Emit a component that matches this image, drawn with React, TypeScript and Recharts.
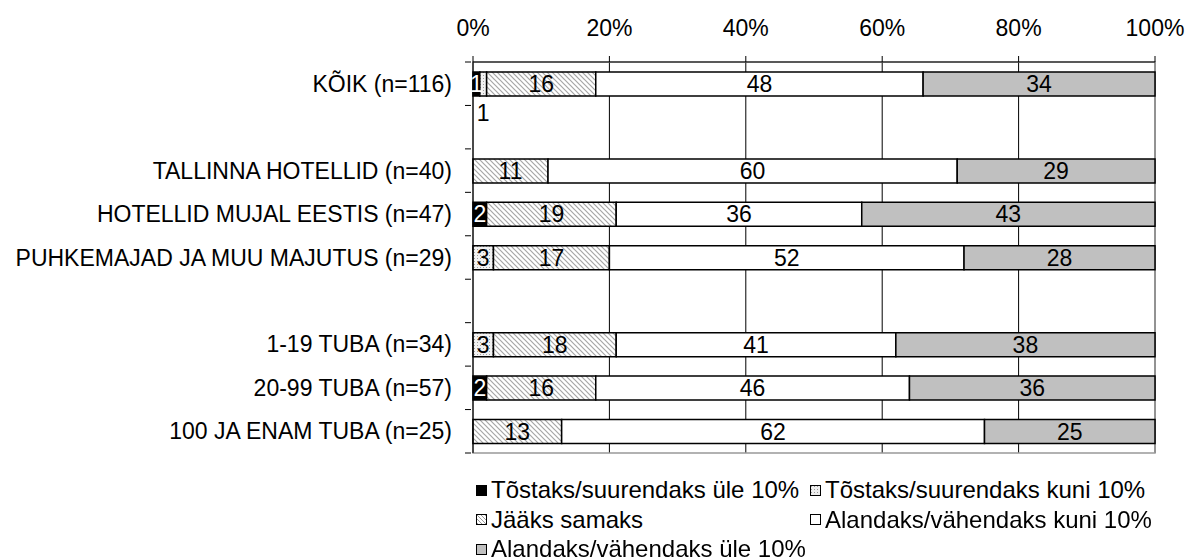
import React from "react";
import {
  BarChart,
  Bar,
  XAxis,
  YAxis,
  CartesianGrid,
  LabelList,
  ReferenceArea,
} from "recharts";

// Row labels (blank rows separate the groups)
const categories = [
  "KÕIK (n=116)",
  " ",
  "TALLINNA HOTELLID (n=40)",
  "HOTELLID MUJAL EESTIS (n=47)",
  "PUHKEMAJAD JA MUU MAJUTUS (n=29)",
  "  ",
  "1-19 TUBA (n=34)",
  "20-99 TUBA (n=57)",
  "100 JA ENAM TUBA (n=25)",
];

// Shares in percent, one array per answer
const upMore = [1, 0, 0, 2, 0, 0, 0, 2, 0];
const upLess = [1, 0, 0, 0, 3, 0, 3, 0, 0];
const same = [16, 0, 11, 19, 17, 0, 18, 16, 13];
const downLess = [48, 0, 60, 36, 52, 0, 41, 46, 62];
const downMore = [34, 0, 29, 43, 28, 0, 38, 36, 25];

const xTicks = [0, 20, 40, 60, 80, 100];

const FONT = '"Liberation Sans", Arial, sans-serif';
const W = 1187;
const H = 560;
const PLOT_TOP = 62;
const PLOT_BOTTOM = 453;

const series = [
  { key: "upMore", name: "Tõstaks/suurendaks üle 10%", values: upMore, fill: "#000000", text: "#ffffff" },
  { key: "upLess", name: "Tõstaks/suurendaks kuni 10%", values: upLess, fill: "url(#dots)", text: "#000000" },
  { key: "same", name: "Jääks samaks", values: same, fill: "url(#hatch)", text: "#000000" },
  { key: "downLess", name: "Alandaks/vähendaks kuni 10%", values: downLess, fill: "#ffffff", text: "#000000" },
  { key: "downMore", name: "Alandaks/vähendaks üle 10%", values: downMore, fill: "#c0c0c0", text: "#000000" },
];

const rows = categories.map((name, i) => {
  const row: Record<string, string | number | null> = { name };
  series.forEach((s) => {
    row[s.key] = s.values[i] ? s.values[i] : null;
  });
  return row;
});

const band = (PLOT_BOTTOM - PLOT_TOP) / categories.length;

// Y tick: label plus small tick marks on the row boundaries
const CategoryTick = (props: any) => {
  const { x, y, payload, index } = props;
  const axisX = x + 6;
  return (
    <g>
      <line x1={axisX - 6} x2={axisX} y1={y - band / 2} y2={y - band / 2} stroke="#000" />
      {index === categories.length - 1 && (
        <line x1={axisX - 6} x2={axisX} y1={y + band / 2} y2={y + band / 2} stroke="#000" />
      )}
      <text
        x={axisX - 19}
        y={y}
        dy={8}
        textAnchor="end"
        fontFamily={FONT}
        fontSize={23}
        fill="#000"
      >
        {payload.value}
      </text>
    </g>
  );
};

const makeLabel = (textColor: string, below: boolean) => (props: any) => {
  const { x, y, width, height, value } = props;
  if (!value) return null;
  const cx = x + width / 2;
  const out = below && width < 9;
  const cy = out ? y + height + 17 : y + height / 2;
  return (
    <text
      x={cx}
      y={cy}
      dy={8}
      textAnchor="middle"
      fontFamily={FONT}
      fontSize={23}
      fill={out ? "#000" : textColor}
    >
      {value}
    </text>
  );
};

const LegendBox = () => (
  <div
    style={{
      position: "absolute",
      left: 474,
      top: 475,
      width: 712,
      display: "grid",
      gridTemplateColumns: "334px 378px",
      rowGap: 0,
      fontFamily: FONT,
      fontSize: 24,
      lineHeight: "29.5px",
      color: "#000",
    }}
  >
    {series.map((s) => (
      <div key={s.key} style={{ display: "flex", alignItems: "center", whiteSpace: "nowrap" }}>
        <svg width={16} height={14} style={{ marginRight: 1 }}>
          <defs>
            <pattern id={`ldots-${s.key}`} width={3} height={3} patternUnits="userSpaceOnUse">
              <rect width={3} height={3} fill="#eeeeee" />
              <rect width={1} height={1} fill="#999999" />
            </pattern>
            <pattern id={`lhatch-${s.key}`} width={4} height={4} patternUnits="userSpaceOnUse">
              <rect width={4} height={4} fill="#ffffff" />
              <path d="M-1,-1 L5,5 M-1,3 L1,5 M3,-1 L5,1" stroke="#999999" strokeWidth={1} />
            </pattern>
          </defs>
          <rect
            x={2.5}
            y={2.5}
            width={10}
            height={10}
            fill={
              s.key === "upLess"
                ? `url(#ldots-${s.key})`
                : s.key === "same"
                ? `url(#lhatch-${s.key})`
                : s.fill
            }
            stroke="#000"
            strokeWidth={1}
          />
        </svg>
        <span>{s.name}</span>
      </div>
    ))}
  </div>
);

export default function App() {
  return (
    <div style={{ position: "fixed", left: 0, top: 0, width: W, height: H, background: "#fff" }}>
      <BarChart
        width={W}
        height={H}
        data={rows}
        layout="vertical"
        margin={{ top: 0, right: W - 1155, bottom: H - PLOT_BOTTOM, left: 0 }}
        barSize={24}
      >
        <defs>
          <pattern id="dots" width={3} height={3} patternUnits="userSpaceOnUse">
            <rect width={3} height={3} fill="#f2f2f2" />
            <rect width={1} height={1} fill="#a0a0a0" />
          </pattern>
          <pattern id="hatch" width={5} height={5} patternUnits="userSpaceOnUse">
            <rect width={5} height={5} fill="#ffffff" />
            <path d="M-1,-1 L6,6 M-1,4 L1,6 M4,-1 L6,1" stroke="#a6a6a6" strokeWidth={1.2} />
          </pattern>
        </defs>
        <ReferenceArea x1={0} x2={100} fill="none" stroke="#999999" strokeWidth={1.5} ifOverflow="visible" />
        <CartesianGrid horizontal={false} stroke="#000" strokeWidth={1} />
        <XAxis
          type="number"
          orientation="top"
          domain={[0, 100]}
          ticks={xTicks}
          tickFormatter={(v: number) => `${v}%`}
          height={PLOT_TOP}
          axisLine={{ stroke: "#000" }}
          tickLine={{ stroke: "#000" }}
          tickSize={6}
          tickMargin={20}
          tick={{ fill: "#000", fontSize: 23, fontFamily: FONT }}
          interval={0}
        />
        <YAxis
          type="category"
          dataKey="name"
          width={473}
          axisLine={{ stroke: "#000" }}
          tickLine={false}
          tick={<CategoryTick />}
          interval={0}
        />
        {series.map((s) => (
          <Bar
            key={s.key}
            dataKey={s.key}
            name={s.name}
            stackId="a"
            fill={s.fill}
            stroke="#000"
            strokeWidth={1.5}
            isAnimationActive={false}
          >
            <LabelList dataKey={s.key} content={makeLabel(s.text, s.key === "upLess")} />
          </Bar>
        ))}
      </BarChart>
      <LegendBox />
    </div>
  );
}
